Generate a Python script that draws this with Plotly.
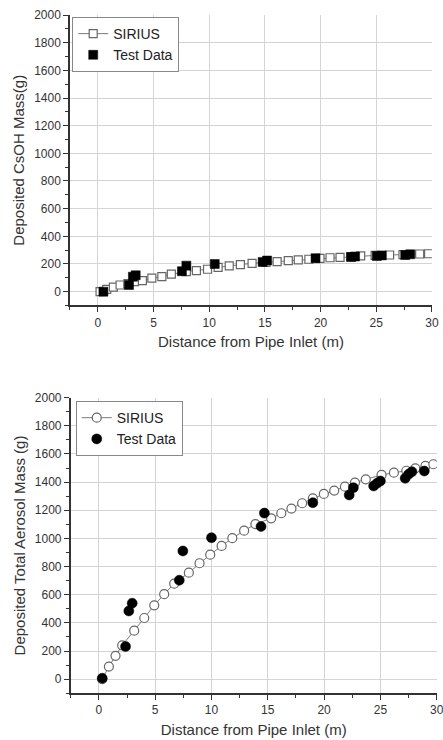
import plotly.graph_objects as go

# ---- Top chart: Deposited CsOH mass ----
csoh_sirius_x = [0.2, 0.8, 1.4, 2.0, 2.7, 3.3, 4.0, 4.85, 5.75, 6.6, 7.95, 8.85, 9.85, 10.8,
                 11.8, 12.8, 13.85, 15.1, 16.1, 17.1, 18.0, 18.95, 19.95, 20.85, 21.75, 22.7,
                 23.6, 24.9, 26.2, 27.4, 28.9, 29.7]
csoh_sirius_y = [0, 16, 32, 48, 58, 72, 80, 97, 109, 126, 145, 152, 162, 176,
                 186, 196, 205, 212, 217, 224, 229, 234, 241, 245, 248, 253,
                 258, 262, 265, 268, 272, 274]
csoh_test_x = [0.5, 2.8, 3.15, 3.4, 7.55, 7.95, 10.5, 14.8, 15.2, 19.55, 22.75, 23.1, 25.05,
               25.5, 27.6, 28.05]
csoh_test_y = [0, 48, 108, 118, 148, 188, 200, 215, 225, 242, 250, 254, 258,
               262, 265, 270]

# ---- Bottom chart: Deposited total aerosol mass ----
aer_sirius_x = [0.3, 0.89, 1.48, 2.07, 3.14, 4.03, 4.92, 5.8, 6.69, 7.99, 8.94, 9.89, 10.9,
                11.85, 12.9, 13.9, 15.3, 16.2, 17.1, 18.05, 19.0, 19.98, 20.9, 21.85, 22.74,
                23.7, 25.1, 26.2, 27.3, 28.1, 29.0, 29.7]
aer_sirius_y = [0, 90, 166, 241, 345, 435, 525, 604, 679, 757, 824, 885, 947,
                1002, 1055, 1102, 1143, 1179, 1212, 1250, 1285, 1316, 1340, 1368, 1397,
                1420, 1451, 1467, 1481, 1498, 1515, 1527]
aer_test_x = [0.3, 2.37, 2.66, 2.96, 7.14, 7.46, 10.0, 14.4, 14.7, 19.0, 22.23, 22.6, 24.4,
              24.7, 25.0, 27.2, 27.5, 27.8, 28.9]
aer_test_y = [7, 232, 485, 540, 703, 911, 1005, 1085, 1180, 1254, 1309, 1361, 1373,
              1392, 1408, 1427, 1456, 1474, 1479]

x_title = "Distance from Pipe Inlet (m)"
top_y_title = "Deposited CsOH Mass(g)"
bot_y_title = "Deposited Total Aerosol Mass (g)"
legend_names = ["SIRIUS", "Test Data"]

FONT = "Arial, Liberation Sans, sans-serif"
TXT = "#333333"
GRID = "#d4d4d4"
LINE_GRAY = "#7a7a7a"

fig = go.Figure()

fig.add_trace(go.Scatter(x=csoh_sirius_x, y=csoh_sirius_y, mode="lines+markers",
                         name=legend_names[0], xaxis="x", yaxis="y", legend="legend",
                         line=dict(color=LINE_GRAY, width=1),
                         marker=dict(symbol="square", size=8, color="white",
                                     line=dict(color="#666666", width=1.2))))
fig.add_trace(go.Scatter(x=csoh_test_x, y=csoh_test_y, mode="markers",
                         name=legend_names[1], xaxis="x", yaxis="y", legend="legend",
                         marker=dict(symbol="square", size=9, color="black",
                                     line=dict(color="black", width=0.5))))

fig.add_trace(go.Scatter(x=aer_sirius_x, y=aer_sirius_y, mode="lines+markers",
                         name=legend_names[0], xaxis="x2", yaxis="y2", legend="legend2",
                         line=dict(color=LINE_GRAY, width=1),
                         marker=dict(symbol="circle", size=9, color="white",
                                     line=dict(color="#666666", width=1.2))))
fig.add_trace(go.Scatter(x=aer_test_x, y=aer_test_y, mode="markers",
                         name=legend_names[1], xaxis="x2", yaxis="y2", legend="legend2",
                         marker=dict(symbol="circle", size=10, color="black",
                                     line=dict(color="black", width=0.5))))

def xax(domain, anchor):
    return dict(domain=domain, anchor=anchor, range=[-2.5, 30], tickmode="linear", tick0=0,
                dtick=5, ticks="outside", ticklen=5, tickwidth=1, tickcolor=TXT,
                minor=dict(dtick=2.5, tick0=0, ticks="outside", ticklen=3, tickcolor=TXT,
                           showgrid=False),
                showline=True, linecolor=TXT, linewidth=1.5,
                showgrid=True, gridcolor=GRID, gridwidth=1, zeroline=False,
                ticklabeloverflow="allow",
                tickfont=dict(family=FONT, size=12, color=TXT),
                title=dict(text=x_title, font=dict(family=FONT, size=15, color=TXT), standoff=8),
                automargin=False)

def yax(domain, anchor, title):
    return dict(domain=domain, anchor=anchor, range=[-100, 2000], tickmode="linear", tick0=0,
                dtick=200, ticks="outside", ticklen=5, tickwidth=1, tickcolor=TXT,
                minor=dict(dtick=100, tick0=0, ticks="outside", ticklen=3, tickcolor=TXT,
                           showgrid=False),
                showline=True, linecolor=TXT, linewidth=1.5,
                showgrid=True, gridcolor=GRID, gridwidth=1, zeroline=False,
                ticklabeloverflow="allow",
                tickfont=dict(family=FONT, size=12, color=TXT),
                title=dict(text=title, font=dict(family=FONT, size=15, color=TXT), standoff=6),
                automargin=False)

leg_common = dict(bgcolor="white", bordercolor="#888888", borderwidth=1,
                  font=dict(family=FONT, size=14, color="#222222"),
                  xanchor="left", yanchor="top", tracegroupgap=0)

fig.update_layout(
    width=443, height=740,
    margin=dict(l=0, r=0, t=0, b=0),
    paper_bgcolor="white", plot_bgcolor="white",
    showlegend=True,
    xaxis=xax([0.158, 0.975], "y"),
    yaxis=yax([0.5872, 0.9797], "x", top_y_title),
    xaxis2=xax([0.1596, 0.9858], "y2"),
    yaxis2=yax([0.0631, 0.4626], "x2", bot_y_title),
    legend=dict(x=0.163, y=0.977, **leg_common),
    legend2=dict(x=0.171, y=0.458, **leg_common),
)

fig.write_html("out.html", config={"displayModeBar": False},
               post_script="document.body.style.margin='0';document.body.style.padding='0';")
